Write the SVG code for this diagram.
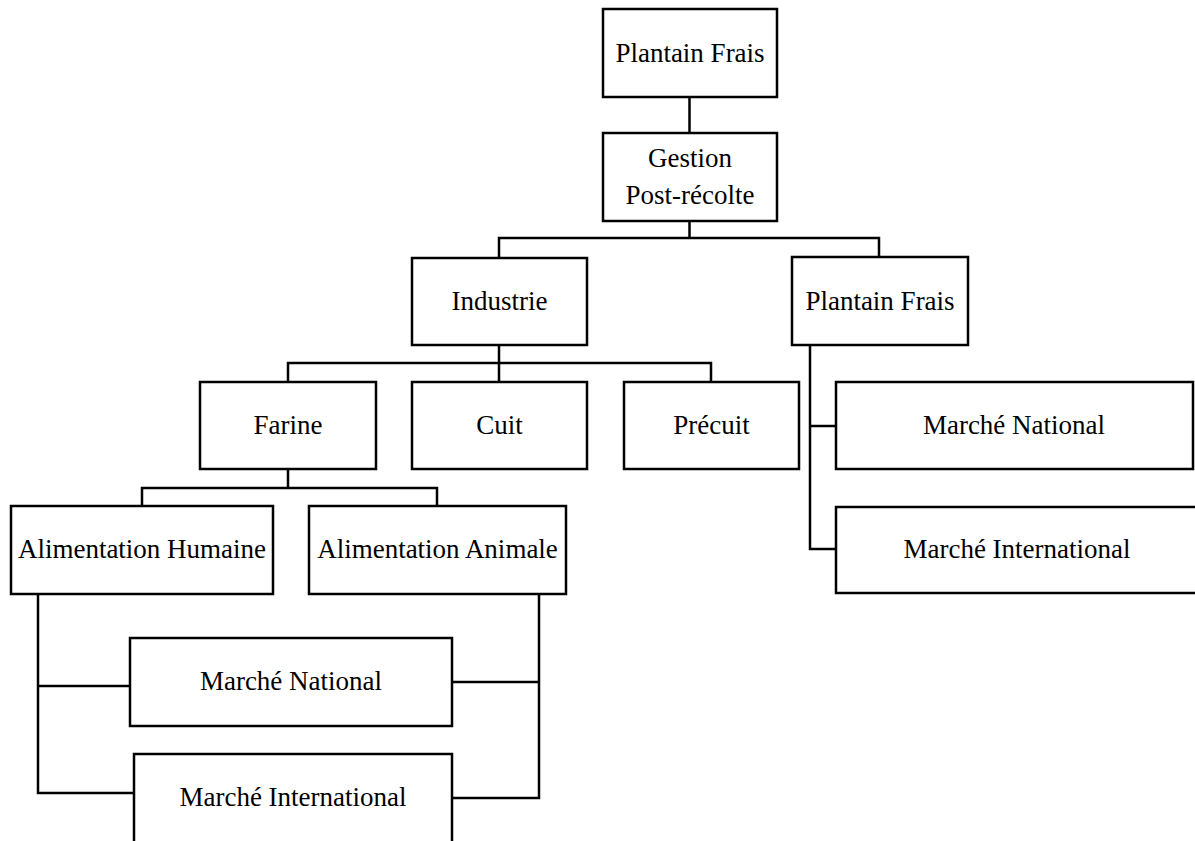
<svg xmlns="http://www.w3.org/2000/svg" width="1195" height="841" viewBox="0 0 1195 841">
<style>
.box{fill:#fff;stroke:#000;stroke-width:2.5}
.con{fill:none;stroke:#000;stroke-width:2.5}
text{font-family:"Liberation Serif","Times New Roman",serif;font-size:27px;fill:#000;text-anchor:middle}
</style>
<rect width="1195" height="841" fill="#fff"/>
<g id="connectors" class="con">
<path d="M689.5 97V133"/>
<path d="M689.5 221V238"/>
<path d="M499 258V238H879V257"/>
<path d="M499 345V382"/>
<path d="M288 382V363H711V382"/>
<path d="M288 469V488"/>
<path d="M142 506V488H437V506"/>
<path d="M38 594V793H134"/>
<path d="M38 686H130"/>
<path d="M539 594V798H452"/>
<path d="M452 682H539"/>
<path d="M810 345V549H836"/>
<path d="M810 426H836"/>
</g>
<g id="n-plantain-frais-top"><rect class="box" x="603" y="9" width="174" height="88"/><text x="690" y="62">Plantain Frais</text></g>
<g id="n-gestion"><rect class="box" x="603" y="133" width="174" height="88"/><text x="690" y="167">Gestion</text><text x="690" y="204">Post-récolte</text></g>
<g id="n-industrie"><rect class="box" x="412" y="258" width="175" height="87"/><text x="499.5" y="310">Industrie</text></g>
<g id="n-plantain-frais"><rect class="box" x="792" y="257" width="176" height="88"/><text x="880" y="310">Plantain Frais</text></g>
<g id="n-farine"><rect class="box" x="200" y="382" width="176" height="87"/><text x="288" y="434">Farine</text></g>
<g id="n-cuit"><rect class="box" x="412" y="382" width="175" height="87"/><text x="499.5" y="434">Cuit</text></g>
<g id="n-precuit"><rect class="box" x="624" y="382" width="175" height="87"/><text x="711.5" y="434">Précuit</text></g>
<g id="n-marche-national-r"><rect class="box" x="836" y="382" width="357" height="87"/><text x="1014" y="434">Marché National</text></g>
<g id="n-marche-international-r"><rect class="box" x="836" y="507" width="370" height="86"/><text x="1017" y="558">Marché International</text></g>
<g id="n-alim-humaine"><rect class="box" x="11" y="506" width="262" height="88"/><text x="142" y="558">Alimentation Humaine</text></g>
<g id="n-alim-animale"><rect class="box" x="309" y="506" width="257" height="88"/><text x="437.5" y="558">Alimentation Animale</text></g>
<g id="n-marche-national-l"><rect class="box" x="130" y="638" width="322" height="88"/><text x="291" y="690">Marché National</text></g>
<g id="n-marche-international-l"><rect class="box" x="134" y="754" width="318" height="100"/><text x="293" y="806">Marché International</text></g>
</svg>
